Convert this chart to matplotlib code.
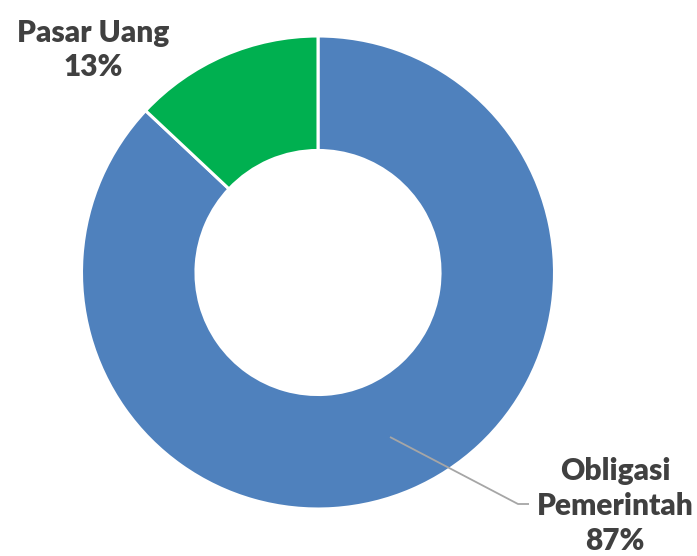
import matplotlib
matplotlib.use("Agg")
import matplotlib.pyplot as plt

categories = ["Obligasi Pemerintah", "Pasar Uang"]
values = [87, 13]
colors = ["#4F81BD", "#00B050"]

W, H = 697, 556
fig = plt.figure(figsize=(W / 100, H / 100), dpi=100)
ax = fig.add_axes([0, 0, 1, 1])

def py(y):
    return H - y

cx, cy, R = 318, py(272.5), 236.5
ax.pie(values, colors=colors, startangle=90, counterclock=False,
       center=(cx, cy), radius=R,
       wedgeprops=dict(width=R * 0.484, edgecolor="white", linewidth=2.2))
ax.set_xlim(0, W)
ax.set_ylim(0, H)
ax.set_aspect("auto")
ax.axis("off")

txt_kw = dict(fontfamily="Lato", fontweight="heavy", color="#404040",
              ha="center", va="center", fontsize=21.5, linespacing=1.3)

# label for Obligasi Pemerintah
ax.text(615, py(506), "Obligasi\nPemerintah\n%d%%" % values[0], **txt_kw)
# label for Pasar Uang
ax.text(93, py(50), "Pasar Uang\n%d%%" % values[1], **txt_kw)

# leader line
ax.plot([390, 518, 529], [py(437), py(504), py(504)], color="#A6A6A6", lw=1.3,
        solid_capstyle="butt")

fig.savefig("out.png", dpi=100)
